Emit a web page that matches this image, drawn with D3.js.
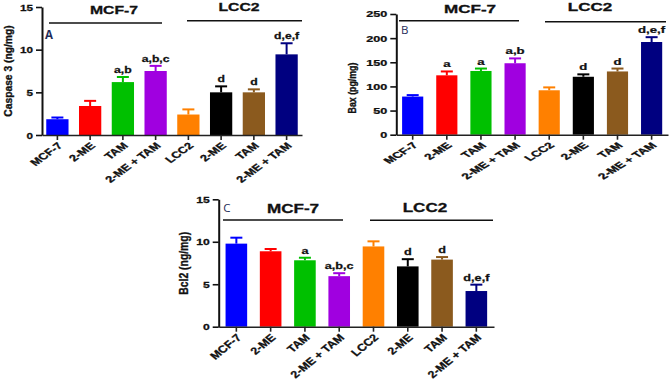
<!DOCTYPE html>
<html>
<head>
<meta charset="utf-8">
<script src="https://cdn.jsdelivr.net/npm/d3@7"></script>
<style>
  html, body { margin: 0; padding: 0; background: #fff; }
  svg { display: block; }
</style>
</head>
<body>
<svg id="chart" width="672" height="382"></svg>
<script>
// ---------------- DATA ----------------
const tickLabels = ["MCF-7", "2-ME", "TAM", "2-ME + TAM", "LCC2", "2-ME", "TAM", "2-ME + TAM"];
const groupNames = ["MCF-7", "LCC2"];
const barColors = ["#0000ff", "#ff0000", "#00c000", "#a000e0", "#ff8000", "#000000", "#8b5a1e", "#000080"];

const caspase3      = [1.85, 3.4, 6.2, 7.5, 2.4, 5.0, 5.0, 9.45];
const caspase3Err   = [0.2, 0.6, 0.6, 0.6, 0.6, 0.7, 0.35, 1.3];
const caspase3Marks = ["", "", "a,b", "a,b,c", "", "d", "d", "d,e,f"];

const bax      = [79, 123, 132, 148, 92, 120, 131, 192];
const baxErr   = [3, 8, 5, 10, 6, 5, 6, 10];
const baxMarks = ["", "a", "a", "a,b", "", "d", "d", "d,e,f"];

const bcl2      = [9.78, 8.88, 7.82, 5.95, 9.45, 7.1, 7.9, 4.2];
const bcl2Err   = [0.7, 0.27, 0.3, 0.35, 0.6, 0.85, 0.3, 0.75];
const bcl2Marks = ["", "", "a", "a,b,c", "", "d", "d", "d,e,f"];

const caspaseTicks = [0, 5, 10, 15];
const baxTicks = [0, 50, 100, 150, 200, 250];
const bcl2Ticks = [0, 5, 10, 15];

// ---------------- LAYOUT ----------------
const FONT = "'Liberation Sans', Arial, sans-serif";

const panels = [
  { letter: "A", title: "Caspase 3 (ng/mg)", titleW: "bold", titleSize: 10.3, titleX: 8, titleY: 71,
    values: caspase3, errs: caspase3Err, marks: caspase3Marks, yMax: 15, ticks: caspaseTicks,
    left: 42, right: 302, top: 7, bottom: 135, pi: 0.32, po: 0.13,
    sx: 1.36, headSize: 11.6, labSize: 9.3, labSx: 1.38, tickSize: 8.6, markSize: 9,
    letterX: 45, letterY: 39,
    groups: [ { x1: 49, x2: 162, y: 23, tx: 114, ty: 14 }, { x1: 187, x2: 302, y: 20.7, tx: 239, ty: 10.7 } ] },
  { letter: "B", title: "Bax (pg/mg)", titleW: "bold", titleSize: 8.8, titleX: 352, titleY: 88,
    values: bax, errs: baxErr, marks: baxMarks, yMax: 250, ticks: baxTicks,
    left: 396.3, right: 668, top: 14, bottom: 134.7, pi: 0.38, po: 0.17,
    sx: 1.5, headSize: 11.4, labSize: 8.5, labSx: 1.6, tickSize: 8.4, markSize: 8.8,
    letterX: 401, letterY: 34,
    groups: [ { x1: 399, x2: 519, y: 20.7, tx: 470, ty: 13.3 }, { x1: 545, x2: 666, y: 21.7, tx: 590, ty: 10.7 } ] },
  { letter: "C", title: "Bcl2 (ng/mg)", titleW: "bold", titleSize: 10.4, titleX: 183.3, titleY: 263.3,
    values: bcl2, errs: bcl2Err, marks: bcl2Marks, yMax: 15, ticks: bcl2Ticks,
    left: 218.7, right: 494, top: 199.3, bottom: 326.7, pi: 0.37, po: 0.2,
    sx: 1.38, headSize: 12.4, labSize: 10.2, labSx: 1.22, tickSize: 8.8, markSize: 9.2,
    letterX: 223.3, letterY: 211.7,
    groups: [ { x1: 223, x2: 343, y: 220, tx: 293, ty: 213.3 }, { x1: 370, x2: 493, y: 220.3, tx: 425, ty: 212.3 } ] }
];

const svg = d3.select("#chart");

panels.forEach(p => {
  const g = svg.append("g");
  const idx = d3.range(tickLabels.length);
  const x = d3.scaleBand().domain(idx).range([p.left, p.right]).paddingInner(p.pi).paddingOuter(p.po);
  const y = d3.scaleLinear().domain([0, p.yMax]).range([p.bottom, p.top]);
  const bw = x.bandwidth();

  // bars
  g.selectAll("rect.bar").data(idx).join("rect")
    .attr("class", "bar")
    .attr("x", i => x(i))
    .attr("y", i => y(p.values[i]))
    .attr("width", bw)
    .attr("height", i => y(0) - y(p.values[i]))
    .attr("fill", i => barColors[i]);

  // error bars (upper only)
  g.selectAll("line.stem").data(idx).join("line")
    .attr("class", "stem")
    .attr("x1", i => x(i) + bw / 2).attr("x2", i => x(i) + bw / 2)
    .attr("y1", i => y(p.values[i])).attr("y2", i => y(p.values[i] + p.errs[i]))
    .attr("stroke", i => barColors[i]).attr("stroke-width", 2);
  g.selectAll("line.cap").data(idx).join("line")
    .attr("class", "cap")
    .attr("x1", i => x(i) + bw / 2 - 6).attr("x2", i => x(i) + bw / 2 + 6)
    .attr("y1", i => y(p.values[i] + p.errs[i])).attr("y2", i => y(p.values[i] + p.errs[i]))
    .attr("stroke", i => barColors[i]).attr("stroke-width", 2);

  // significance letters
  g.selectAll("text.mark").data(idx.filter(i => p.marks[i])).join("text")
    .attr("class", "mark")
    .attr("transform", i => `translate(${x(i) + bw / 2},${y(p.values[i] + p.errs[i]) - 4}) scale(${p.sx},1)`)
    .attr("text-anchor", "middle")
    .attr("font-family", FONT).attr("font-weight", "bold").attr("font-size", p.markSize)
    .attr("fill", "#111").attr("stroke", "#111").attr("stroke-width", 0.25)
    .text(i => p.marks[i]);

  // y axis
  const ya = g.append("g").attr("transform", `translate(${p.left},0)`)
    .call(d3.axisLeft(y).tickValues(p.ticks).tickSize(6).tickSizeOuter(0).tickPadding(3));
  ya.select(".domain").attr("stroke", "#111").attr("stroke-width", 2);
  ya.selectAll(".tick line").attr("stroke", "#111").attr("stroke-width", 1.6);
  ya.selectAll(".tick text")
    .attr("x", null).attr("dy", "0.35em")
    .attr("transform", `translate(-9,0) scale(${p.sx},1)`)
    .attr("font-family", FONT).attr("font-weight", "bold").attr("font-size", p.tickSize)
    .attr("fill", "#111").attr("stroke", "#111").attr("stroke-width", 0.25);

  // x axis
  const xa = g.append("g").attr("transform", `translate(0,${p.bottom})`)
    .call(d3.axisBottom(x).tickSize(5).tickSizeOuter(0).tickFormat(i => tickLabels[i]));
  xa.select(".domain").attr("stroke", "#222").attr("stroke-width", 1.6);
  xa.selectAll(".tick line").attr("stroke", "#222").attr("stroke-width", 1.6);
  xa.selectAll(".tick text")
    .attr("y", null).attr("x", null).attr("dy", "0.2em")
    .attr("text-anchor", "end")
    .attr("transform", `translate(4,10) scale(${p.labSx},1) rotate(-45)`)
    .attr("font-family", FONT).attr("font-weight", "bold").attr("font-size", p.labSize)
    .attr("fill", "#111").attr("stroke", "#111").attr("stroke-width", 0.3);

  // y title
  g.append("text")
    .attr("transform", `translate(${p.titleX},${p.titleY}) scale(1.15,1) rotate(-90)`)
    .attr("text-anchor", "middle").attr("dy", "0.35em")
    .attr("font-family", FONT).attr("font-weight", p.titleW).attr("font-size", p.titleSize)
    .attr("fill", "#111").attr("stroke", "#111").attr("stroke-width", 0.3)
    .text(p.title);

  // group lines and headings
  p.groups.forEach((gr, k) => {
    g.append("line").attr("x1", gr.x1).attr("x2", gr.x2).attr("y1", gr.y).attr("y2", gr.y)
      .attr("stroke", "#111").attr("stroke-width", 1.5);
    g.append("text")
      .attr("transform", `translate(${gr.tx},${gr.ty}) scale(${p.sx},1)`)
      .attr("text-anchor", "middle")
      .attr("font-family", FONT).attr("font-weight", "bold").attr("font-size", p.headSize)
      .attr("fill", "#111").attr("stroke", "#111").attr("stroke-width", 0.3)
      .text(groupNames[k]);
  });

  // panel letter
  g.append("text")
    .attr("x", p.letterX).attr("y", p.letterY)
    .attr("font-family", "'Open Sans', sans-serif").attr("font-weight", p.letter === "A" ? "bold" : "normal")
    .attr("font-size", 11.5)
    .attr("fill", "#1f2d5a")
    .text(p.letter);
});
</script>
</body>
</html>
